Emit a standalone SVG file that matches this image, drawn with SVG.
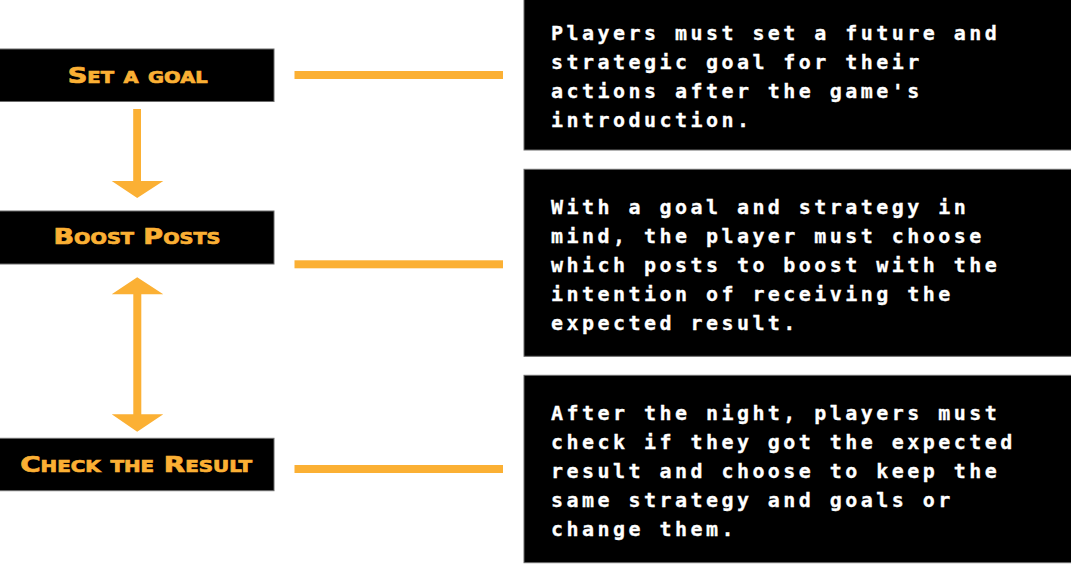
<svg xmlns="http://www.w3.org/2000/svg" width="1071" height="564" viewBox="0 0 1071 564">
<style>
.box{fill:#000;stroke:#6b6b6b;stroke-width:1}
.title{font-family:"DejaVu Sans",sans-serif;font-weight:bold;font-variant:small-caps;font-size:21px;fill:#FBB034;stroke:#FBB034;stroke-width:0.7;text-anchor:middle}
.desc{font-family:"DejaVu Sans Mono",monospace;font-weight:bold;font-size:20px;fill:#fff;stroke:#fff;stroke-width:0.3;letter-spacing:3.45px}
.conn{fill:#FBB034}
</style>
<rect width="1071" height="564" fill="#fff"/>
<g id="connectors">
<rect class="conn" x="294.5" y="71" width="208.5" height="8"/>
<rect class="conn" x="294.5" y="260.3" width="208.5" height="8"/>
<rect class="conn" x="294.5" y="465" width="208.5" height="8"/>
<polygon class="conn" points="133.2,109 141,109 141,181 163.3,181 137.2,198 111.7,181 133.2,181"/>
<polygon class="conn" points="137.2,277.3 163.3,294.3 141.3,294.3 141.3,414.3 163.3,414.3 137.2,431.7 111.7,414.3 133.3,414.3 133.3,294.3 111.7,294.3"/>
</g>
<g id="node-set-goal">
<rect class="box" x="-1" y="49" width="275" height="52.5"/>
<text class="title" x="137.7" y="82.7" textLength="140" lengthAdjust="spacingAndGlyphs">Set a goal</text>
</g>
<g id="node-boost-posts">
<rect class="box" x="-1" y="211" width="275" height="53"/>
<text class="title" x="137" y="244.3" textLength="167" lengthAdjust="spacingAndGlyphs">Boost Posts</text>
</g>
<g id="node-check-result">
<rect class="box" x="-1" y="438.3" width="275" height="52.4"/>
<text class="title" x="136.2" y="471.8" textLength="232" lengthAdjust="spacingAndGlyphs">Check the Result</text>
</g>
<g id="desc-1">
<rect class="box" x="524" y="-1" width="548" height="151"/>
<text class="desc" x="551" y="40">Players must set a future and</text>
<text class="desc" x="551" y="69">strategic goal for their</text>
<text class="desc" x="551" y="98">actions after the game's</text>
<text class="desc" x="551" y="127">introduction.</text>
</g>
<g id="desc-2">
<rect class="box" x="524" y="169.3" width="548" height="187"/>
<text class="desc" x="551" y="214">With a goal and strategy in</text>
<text class="desc" x="551" y="243">mind, the player must choose</text>
<text class="desc" x="551" y="272">which posts to boost with the</text>
<text class="desc" x="551" y="301">intention of receiving the</text>
<text class="desc" x="551" y="330">expected result.</text>
</g>
<g id="desc-3">
<rect class="box" x="524" y="375.3" width="548" height="187.4"/>
<text class="desc" x="551" y="420">After the night, players must</text>
<text class="desc" x="551" y="449">check if they got the expected</text>
<text class="desc" x="551" y="478">result and choose to keep the</text>
<text class="desc" x="551" y="507">same strategy and goals or</text>
<text class="desc" x="551" y="536">change them.</text>
</g>
</svg>
